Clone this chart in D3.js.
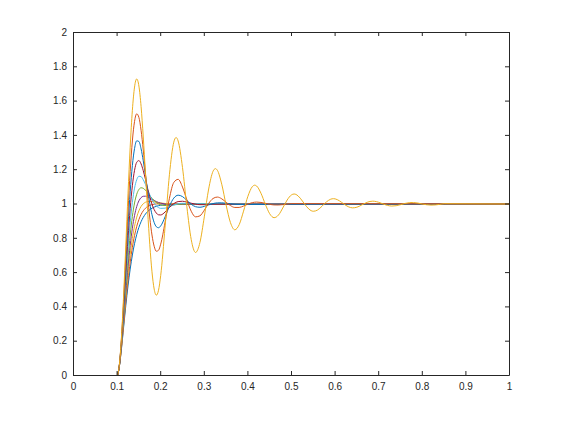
<!DOCTYPE html>
<html>
<head>
<meta charset="utf-8">
<script src="https://cdn.jsdelivr.net/npm/d3@7"></script>
<style>
  html, body { margin: 0; padding: 0; background: #ffffff; }
  svg { display: block; }
  .tick text { font-family: "Liberation Sans", Arial, Helvetica, sans-serif; font-size: 10px; fill: #262626; }
</style>
</head>
<body>
<svg id="chart" width="564" height="423"></svg>
<script>
// ---- data ----
// sample times (s); response is 0 until the 0.1 s delay
const timeSamples = [
  0, 0.100, 0.105, 0.110, 0.115, 0.120, 0.125, 0.130, 0.135, 0.140, 0.145,
  0.150, 0.155, 0.160, 0.165, 0.170, 0.175, 0.180, 0.185, 0.190, 0.195, 0.200,
  0.21, 0.22, 0.23, 0.24, 0.25, 0.26, 0.27, 0.28, 0.29, 0.30,
  0.31, 0.32, 0.33, 0.34, 0.35, 0.36, 0.37, 0.38, 0.39, 0.40,
  0.41, 0.42, 0.43, 0.44, 0.45, 0.46, 0.47, 0.48, 0.49, 0.50,
  0.51, 0.52, 0.53, 0.54, 0.55, 0.56, 0.57, 0.58, 0.59, 0.60,
  0.61, 0.62, 0.63, 0.64, 0.65, 0.66, 0.67, 0.68, 0.69, 0.70,
  0.71, 0.72, 0.73, 0.74, 0.75, 0.76, 0.77, 0.78, 0.79, 0.80,
  0.81, 0.82, 0.83, 0.84, 0.85
];
const endTime = 1;
const steadyValue = 1;

const dampingRatios = [1.0, 0.9, 0.8, 0.7, 0.6, 0.5, 0.4, 0.3, 0.2, 0.1];

const response10 = [0, 0, 0.0487, 0.1558, 0.2826, 0.4082, 0.5221, 0.6204, 0.7023, 0.7689, 0.8222,
  0.8641, 0.8968, 0.9220, 0.9414, 0.9561, 0.9672, 0.9756, 0.9819, 0.9866, 0.9901, 0.9927,
  0.9961, 0.9979, 0.9989, 0.9994, 0.9997];
const response09 = [0, 0, 0.0497, 0.1617, 0.2967, 0.4319, 0.5550, 0.6606, 0.7474, 0.8163, 0.8696,
  0.9097, 0.9392, 0.9603, 0.9752, 0.9853, 0.9920, 0.9963, 0.9989, 1.0004, 1.0012, 1.0015,
  1.0014, 1.0010, 1.0006];
const response08 = [0, 0, 0.0508, 0.1679, 0.3120, 0.4583, 0.5921, 0.7064, 0.7990, 0.8705, 0.9234,
  0.9607, 0.9857, 1.0013, 1.0101, 1.0141, 1.0152, 1.0143, 1.0125, 1.0103, 1.0081, 1.0061,
  1.0030, 1.0011, 1.0002, 0.9998];
const response07 = [0, 0, 0.0518, 0.1745, 0.3288, 0.4876, 0.6341, 0.7589, 0.8584, 0.9330, 0.9851,
  1.0185, 1.0371, 1.0450, 1.0455, 1.0415, 1.0350, 1.0277, 1.0206, 1.0142, 1.0090, 1.0049,
  0.9999, 0.9981, 0.9980, 0.9985, 0.9992];
const response06 = [0, 0, 0.0530, 0.1816, 0.3471, 0.5205, 0.6819, 0.8194, 0.9277, 1.0060, 1.0568,
  1.0846, 1.0945, 1.0916, 1.0807, 1.0655, 1.0490, 1.0334, 1.0197, 1.0089, 1.0008, 0.9955,
  0.9911, 0.9921, 0.9950, 0.9979, 0.9998, 1.0007];
const response05 = [0, 0, 0.0541, 0.1891, 0.3671, 0.5573, 0.7367, 0.8900, 1.0093, 1.0924, 1.1415,
  1.1617, 1.1593, 1.1413, 1.1142, 1.0834, 1.0532, 1.0265, 1.0049, 0.9892, 0.9792, 0.9744,
  0.9757, 0.9845, 0.9942, 1.0009, 1.0040, 1.0041, 1.0028, 1.0012];
const response04 = [0, 0, 0.0554, 0.1971, 0.3891, 0.5989, 0.7998, 0.9729, 1.1065, 1.1963, 1.2433,
  1.2532, 1.2338, 1.1945, 1.1442, 1.0909, 1.0410, 0.9990, 0.9673, 0.9469, 0.9370, 0.9362,
  0.9531, 0.9797, 1.0021, 1.0142, 1.0160, 1.0112, 1.0045, 0.9990, 0.9962, 0.9960, 0.9973, 0.9990];
const response03 = [0, 0, 0.0566, 0.2057, 0.4134, 0.6459, 0.8731, 1.0711, 1.2239, 1.3232, 1.3684,
  1.3647, 1.3218, 1.2519, 1.1676, 1.0810, 1.0019, 0.9376, 0.8923, 0.8674, 0.8616, 0.8721,
  0.9244, 0.9878, 1.0341, 1.0514, 1.0431, 1.0210, 0.9985, 0.9842, 0.9809, 0.9861,
  0.9948, 1.0025, 1.0066, 1.0068, 1.0043, 1.0010, 0.9984, 0.9974];
const response02 = [0, 0, 0.0579, 0.2148, 0.4401, 0.6993, 0.9587, 1.1888, 1.3675, 1.4813, 1.5258,
  1.5049, 1.4297, 1.3156, 1.1808, 1.0431, 0.9185, 0.8194, 0.7537, 0.7245, 0.7302, 0.7657,
  0.8930, 1.0331, 1.1254, 1.1437, 1.0986, 1.0240, 0.9578, 0.9251, 0.9311, 0.9639,
  1.0035, 1.0320, 1.0404, 1.0302, 1.0101, 0.9908, 0.9799, 0.9800, 0.9882, 0.9993,
  1.0079, 1.0112, 1.0091, 1.0038, 0.9982, 0.9947, 0.9943, 0.9963, 0.9993, 1.0019];
const response01 = [0, 0, 0.0592, 0.2246, 0.4697, 0.7602, 1.0592, 1.3311, 1.5458, 1.6820, 1.7292,
  1.6878, 1.5687, 1.3910, 1.1795, 0.9613, 0.7624, 0.6048, 0.5041, 0.4683, 0.4971, 0.5830,
  0.8657, 1.1705, 1.3606, 1.3676, 1.2124, 0.9842, 0.7928, 0.7173, 0.7758, 0.9250,
  1.0876, 1.1906, 1.1964, 1.1153, 0.9942, 0.8914, 0.8497, 0.8795, 0.9582, 1.0450,
  1.1007, 1.1049, 1.0626, 0.9983, 0.9431, 0.9202, 0.9352, 0.9767, 1.0231, 1.0532,
  1.0560, 1.0339, 0.9998, 0.9702, 0.9576, 0.9652, 0.9871, 1.0118, 1.0281, 1.0299,
  1.0184, 1.0003, 0.9844, 0.9775, 0.9813, 0.9929, 1.0060, 1.0148, 1.0160, 1.0100,
  1.0004, 0.9919, 0.9880, 0.9900, 0.9960, 1.0031, 1.0078, 1.0085, 1.0054, 0.9997,
  0.9957, 0.9936, 0.9946, 0.9978, 1.0016];
// extra points at the later peaks of the least damped curve
const response01PeakTimes  = [0.2353, 0.3255, 0.4157, 0.5060, 0.5962, 0.6864, 0.7766];
const response01PeakValues = [1.3878, 1.2063, 1.1097, 1.0583, 1.0310, 1.0165, 1.0088];

const seriesValues = [response10, response09, response08, response07, response06,
                      response05, response04, response03, response02, response01];

const seriesColors = ["#0072BD", "#D95319", "#EDB120", "#7E2F8E", "#77AC30", "#4DBEEE", "#A2142F"];

const xTicks = [0, 0.1, 0.2, 0.3, 0.4, 0.5, 0.6, 0.7, 0.8, 0.9, 1];
const xTickLabels = ["0", "0.1", "0.2", "0.3", "0.4", "0.5", "0.6", "0.7", "0.8", "0.9", "1"];
const yTicks = [0, 0.2, 0.4, 0.6, 0.8, 1, 1.2, 1.4, 1.6, 1.8, 2];
const yTickLabels = ["0", "0.2", "0.4", "0.6", "0.8", "1", "1.2", "1.4", "1.6", "1.8", "2"];

// ---- layout ----
const plotLeft = 73, plotRight = 509, plotTop = 32, plotBottom = 375;
const svg = d3.select("#chart");

const x = d3.scaleLinear().domain([0, 1]).range([plotLeft, plotRight]);
const y = d3.scaleLinear().domain([0, 2]).range([plotBottom, plotTop]);

const axisColor = "#262626";

// plot lines
const line = d3.line()
  .x(d => x(d[0]))
  .y(d => y(d[1]))
  .curve(d3.curveMonotoneX);

const plot = svg.append("g").attr("transform", "translate(0.5,0.5)");
seriesValues.forEach((vals, i) => {
  let pts = vals.map((v, k) => [timeSamples[k], v]);
  if (vals === response01) {
    response01PeakTimes.forEach((t, k) => pts.push([t, response01PeakValues[k]]));
    pts.sort((a, b) => a[0] - b[0]);
  }
  pts.push([endTime, steadyValue]);
  plot.append("path")
    .datum(pts)
    .attr("fill", "none")
    .attr("stroke", seriesColors[i % seriesColors.length])
    .attr("stroke-width", 1)
    .attr("stroke-linejoin", "round")
    .attr("d", line);
});

// axes (box with inward ticks)
function styleAxis(g) {
  g.select(".domain").attr("stroke", axisColor).attr("stroke-width", 1).attr("fill", "none");
  g.selectAll(".tick line").attr("stroke", axisColor).attr("stroke-width", 1);
}

const xFmt = (d, i) => xTickLabels[i];
const yFmt = (d, i) => yTickLabels[i];

svg.append("g")
  .attr("transform", `translate(0,${plotBottom})`)
  .call(d3.axisBottom(x).tickValues(xTicks).tickFormat(xFmt).tickSizeInner(-4).tickSizeOuter(0).tickPadding(8))
  .call(styleAxis);

svg.append("g")
  .attr("transform", `translate(0,${plotTop})`)
  .call(d3.axisTop(x).tickValues(xTicks).tickFormat("").tickSizeInner(-4).tickSizeOuter(0))
  .call(styleAxis);

svg.append("g")
  .attr("transform", `translate(${plotLeft},0)`)
  .call(d3.axisLeft(y).tickValues(yTicks).tickFormat(yFmt).tickSizeInner(-4).tickSizeOuter(0).tickPadding(6))
  .call(styleAxis);

svg.append("g")
  .attr("transform", `translate(${plotRight},0)`)
  .call(d3.axisRight(y).tickValues(yTicks).tickFormat("").tickSizeInner(-4).tickSizeOuter(0))
  .call(styleAxis);

svg.selectAll(".tick text").attr("fill", axisColor);
</script>
</body>
</html>
